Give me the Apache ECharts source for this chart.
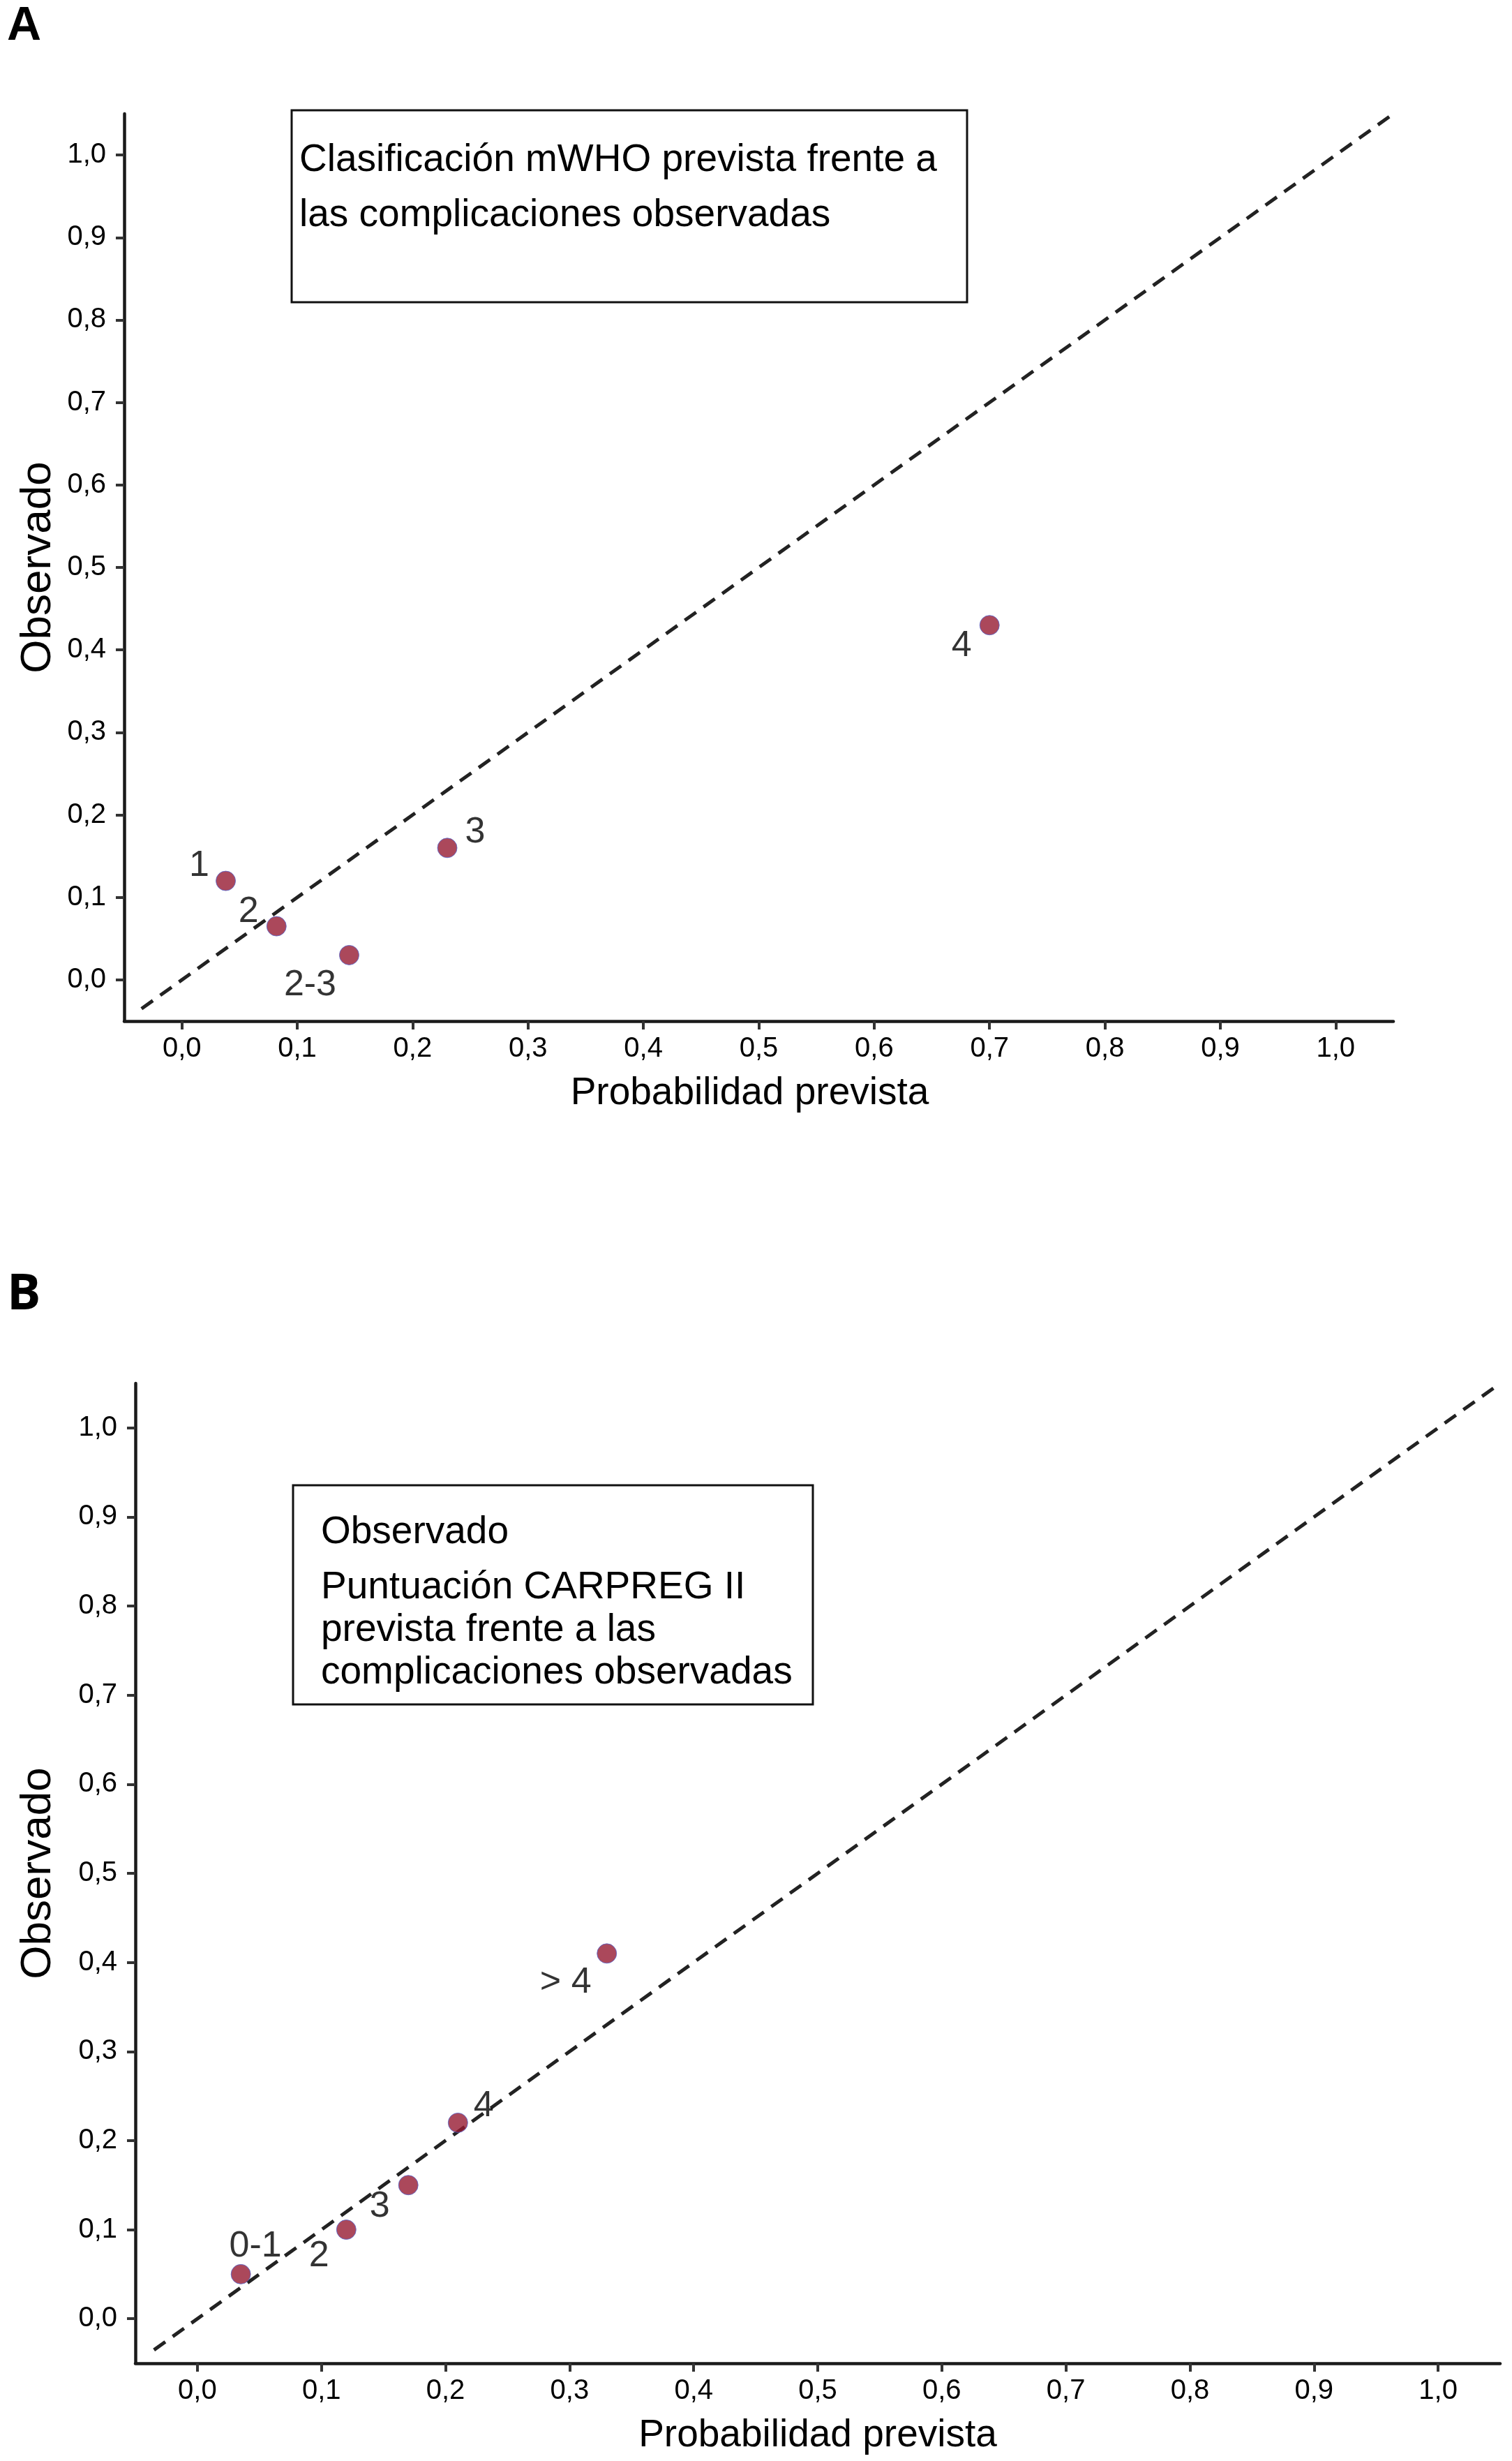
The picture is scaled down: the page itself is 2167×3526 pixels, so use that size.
<!DOCTYPE html>
<html>
<head>
<meta charset="utf-8">
<script src="https://cdn.jsdelivr.net/npm/echarts@6/dist/echarts.min.js"></script>
<style>
html,body{margin:0;padding:0;background:#fff;}
#c{width:2167px;height:3526px;}
</style>
</head>
<body>
<div id="c"></div>
<script>
// ---- data ----
const tickValues = [0, 0.1, 0.2, 0.3, 0.4, 0.5, 0.6, 0.7, 0.8, 0.9, 1.0];
const tickLabels = ['0,0','0,1','0,2','0,3','0,4','0,5','0,6','0,7','0,8','0,9','1,0'];
const axisRange = [-0.05, 1.05];

const mwhoClasses   = ['1', '2', '2-3', '3', '4'];
const mwhoPredicted = [0.038, 0.082, 0.145, 0.23, 0.70];
const mwhoObserved  = [0.12, 0.065, 0.03, 0.16, 0.43];

const carpregScores    = ['0-1', '2', '3', '4', '> 4'];
const carpregPredicted = [0.035, 0.12, 0.17, 0.21, 0.33];
const carpregObserved  = [0.05, 0.10, 0.15, 0.22, 0.41];

const diagonal = [-0.035, 1.05];

const xTitle = 'Probabilidad prevista';
const yTitle = 'Observado';
const boxA = ['Clasificación mWHO prevista frente a', 'las complicaciones observadas'];
const boxB = ['Observado', 'Puntuación CARPREG II', 'prevista frente a las', 'complicaciones observadas'];

// ---- styles ----
const FONT = "'Liberation Sans', Arial, Helvetica, sans-serif";
const labelOffsetsA = [[-38,-21],[-40,-20],[-56,43],[40,-22],[-40,30]];
const labelOffsetsB = [[21,-40],[-39,38],[-41,31],[37,-24],[-59,42]];

function fmt(v){
  const i = tickValues.findIndex(t => Math.abs(t - v) < 1e-9);
  return i >= 0 ? tickLabels[i] : '';
}

function xAxisCfg(gridIndex, titlePad){
  return {
    type: 'value', gridIndex, min: axisRange[0], max: axisRange[1],
    name: xTitle, nameLocation: 'middle', nameGap: 76,
    nameTextStyle: {fontFamily: FONT, fontSize: 55, color: '#000', padding: titlePad},
    axisLine: {onZero: false, lineStyle: {color: '#1a1a1a', width: 4.5}},
    axisTick: {customValues: tickValues, length: 12, lineStyle: {color: '#333', width: 4}},
    axisLabel: {customValues: tickValues, formatter: fmt, fontFamily: FONT, fontSize: 40, color: '#000', margin: 20},
    splitLine: {show: false}
  };
}
function yAxisCfg(gridIndex, gap){
  return {
    type: 'value', gridIndex, min: axisRange[0], max: axisRange[1],
    name: yTitle, nameLocation: 'middle', nameGap: gap, nameRotate: 90,
    nameTextStyle: {fontFamily: FONT, fontSize: 62, color: '#000'},
    axisLine: {onZero: false, lineStyle: {color: '#1a1a1a', width: 4.5}},
    axisTick: {customValues: tickValues, length: 12, lineStyle: {color: '#333', width: 4}},
    axisLabel: {customValues: tickValues, formatter: fmt, fontFamily: FONT, fontSize: 40, color: '#000', margin: 26},
    splitLine: {show: false}
  };
}

function pointSeries(idx, xs, ys, names, offsets){
  return {
    type: 'scatter', xAxisIndex: idx, yAxisIndex: idx, z: 5,
    symbolSize: 28,
    itemStyle: {color: '#961a32', borderColor: '#5566d0', borderWidth: 1},
    data: xs.map((x, i) => ({
      value: [x, ys[i]], name: names[i],
      label: {show: true, position: 'inside', offset: offsets[i], formatter: names[i],
        fontFamily: FONT, fontSize: 52, color: '#000'}
    }))
  };
}
function diagSeries(idx){
  return {
    type: 'line', xAxisIndex: idx, yAxisIndex: idx, z: 2, silent: true,
    showSymbol: false, symbol: 'none',
    lineStyle: {color: '#222', width: 5, type: [20, 13]},
    data: [[diagonal[0], diagonal[0]], [diagonal[1], diagonal[1]]]
  };
}

function boxGraphic(left, top, w, h, lines, textLeft, lineTops){
  const els = [{type: 'rect', shape: {x: left, y: top, width: w, height: h},
    style: {fill: '#fff', stroke: '#111', lineWidth: 3}, z: 10}];
  lines.forEach((t, i) => els.push({type: 'text', x: textLeft, y: lineTops[i], z: 11,
    style: {text: t, font: '55px ' + FONT, fill: '#000', textVerticalAlign: 'middle', textAlign: 'left'}}));
  return els;
}

const chart = echarts.init(document.getElementById('c'), null, {renderer: 'canvas'});
const option = {
  backgroundColor: '#fff',
  animation: false,
  grid: [
    {left: 178, top: 163, width: 1819, height: 1300, containLabel: false},
    {left: 194, top: 1982, width: 1956, height: 1404, containLabel: false}
  ],
  xAxis: [xAxisCfg(0, [0, 26, 0, 0]), xAxisCfg(1, 0)],
  yAxis: [yAxisCfg(0, 92), yAxisCfg(1, 108)],
  series: [
    diagSeries(0),
    pointSeries(0, mwhoPredicted, mwhoObserved, mwhoClasses, labelOffsetsA),
    diagSeries(1),
    pointSeries(1, carpregPredicted, carpregObserved, carpregScores, labelOffsetsB)
  ],
  graphic: [
    {type: 'text', x: 10, y: 38, style: {text: 'A', font: 'bold 68px ' + FONT, fill: '#000', textVerticalAlign: 'middle'}},
    {type: 'text', x: 10, y: 1855, style: {text: 'B', font: 'bold 72px "Open Sans", ' + FONT, fill: '#000', textVerticalAlign: 'middle'}},
    ...boxGraphic(418, 158, 968, 275, boxA, 429, [230, 309]),
    ...boxGraphic(420, 2128, 745, 314, boxB, 460, [2196, 2275, 2336, 2397])
  ]
};
chart.setOption(option);
</script>
</body>
</html>
